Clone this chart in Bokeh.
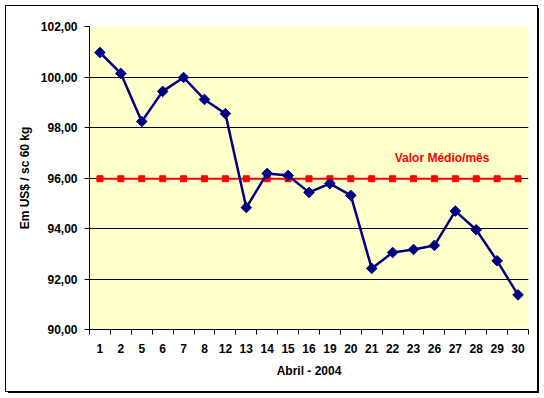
import numpy as np
from bokeh.plotting import figure
from bokeh.models import FixedTicker, CustomJSTickFormatter, Label, ColumnDataSource, Range1d
from bokeh.embed import file_html
from bokeh.resources import INLINE

days = ["1", "2", "5", "6", "7", "8", "12", "13", "14", "15", "16", "19", "20",
        "21", "22", "23", "26", "27", "28", "29", "30"]
price = [100.97, 100.14, 98.24, 99.43, 99.98, 99.11, 98.55, 94.83, 96.18, 96.10, 95.43,
         95.78, 95.31, 92.42, 93.05, 93.17, 93.33, 94.69, 93.95, 92.72, 91.37]
media = [95.97, 95.97, 95.97, 95.97, 95.97, 95.97, 95.97, 95.97, 95.97, 95.97, 95.97,
         95.97, 95.97, 95.97, 95.97, 95.97, 95.97, 95.97, 95.97, 95.97, 95.97]
y_ticks = [90, 92, 94, 96, 98, 100, 102]

n = len(days)
xpos = np.arange(n) + 0.5
src = ColumnDataSource(dict(x=xpos, price=price, media=media, day=days))

FONT = "Liberation Sans"
W, H = 531, 385
BL, BR, BT, BB = 83, 9, 20, 62

p = figure(width=W, height=H, output_backend="svg", toolbar_location=None,
           x_range=Range1d(0, n), y_range=Range1d(90, 102),
           min_border_left=BL, min_border_right=BR, min_border_top=BT, min_border_bottom=BB)
p.background_fill_color = "#FFFFCC"
p.border_fill_color = "white"
p.outline_line_color = None
# outer chart frame drawn just outside the plot's box
p.styles = {"margin-left": "6px", "margin-top": "6px",
            "outline": "1px solid black", "outline-offset": "0px",
            "box-shadow": "2px 2px 0 0 black"}

# grid
p.xgrid.visible = False
p.ygrid.ticker = FixedTicker(ticks=y_ticks[1:-1])
p.ygrid.grid_line_color = "black"
p.ygrid.grid_line_width = 1

# y axis
p.yaxis.ticker = FixedTicker(ticks=y_ticks)
p.yaxis.formatter = CustomJSTickFormatter(code="return tick.toFixed(2).replace('.', ',');")
p.yaxis.major_tick_out = 5
p.yaxis.major_tick_in = 0
p.yaxis.minor_tick_line_color = None
p.yaxis.major_label_standoff = 7
p.yaxis.axis_label = "Em US$ / sc 60 kg"
p.yaxis.axis_label_standoff = 6

# x axis
p.xaxis.ticker = FixedTicker(ticks=list(xpos), minor_ticks=list(range(n + 1)))
p.xaxis.major_label_overrides = {float(x): d for x, d in zip(xpos, days)}
p.xaxis.major_tick_out = 0
p.xaxis.major_tick_in = 0
p.xaxis.minor_tick_out = 5
p.xaxis.minor_tick_in = 0
p.xaxis.minor_tick_line_color = "black"
p.xaxis.major_label_standoff = 9
p.xaxis.axis_label = "Abril - 2004"
p.xaxis.axis_label_standoff = 8

for ax in (p.xaxis[0], p.yaxis[0]):
    ax.axis_line_color = "black"
    ax.major_tick_line_color = "black"
    ax.major_label_text_font = FONT
    ax.major_label_text_font_style = "bold"
    ax.major_label_text_font_size = "12px"
    ax.major_label_text_color = "black"
    ax.axis_label_text_font = FONT
    ax.axis_label_text_font_style = "bold"
    ax.axis_label_text_font_size = "12px"
    ax.axis_label_text_color = "black"

# mean line
p.line("x", "media", source=src, line_color="red", line_width=2)
p.scatter("x", "media", source=src, marker="square", size=6,
          fill_color="red", line_color="red")

# price line
p.line("x", "price", source=src, line_color="#000080", line_width=2.5)
p.scatter("x", "price", source=src, marker="square", angle=np.pi / 4, size=7.5,
          fill_color="#000080", line_color="#000080")

p.add_layout(Label(x=14.6, y=96.8, text="Valor Médio/mês", text_color="red",
                   text_font=FONT, text_font_style="bold", text_font_size="12px",
                   text_baseline="middle"))

open("out.html", "w").write(file_html(p, INLINE))
